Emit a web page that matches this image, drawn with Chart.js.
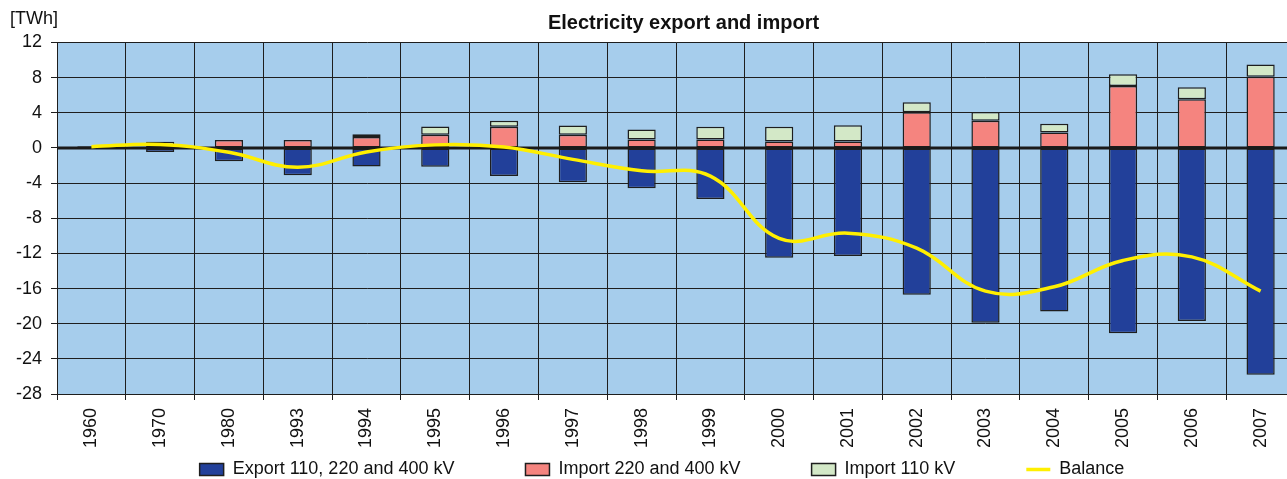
<!DOCTYPE html>
<html>
<head>
<meta charset="utf-8">
<script src="https://cdn.jsdelivr.net/npm/chart.js@4.4.1/dist/chart.umd.min.js"></script>
<style>
  html, body { margin: 0; padding: 0; background: #ffffff; overflow: hidden; }
  #wrap { position: absolute; left: 0; top: 0; width: 1300px; height: 479px; }
</style>
</head>
<body>
<div id="wrap"><canvas id="c" width="1300" height="479"></canvas></div>
<script>
const categories = ['1960','1970','1980','1993','1994','1995','1996','1997','1998','1999','2000','2001','2002','2003','2004','2005','2006','2007'];
const exportVals = [-0.1, -0.45, -1.5, -3.1, -2.1, -2.15, -3.2, -3.9, -4.6, -5.8, -12.5, -12.3, -16.7, -19.9, -18.6, -21.1, -19.7, -25.8];
const import220 = [0.2, 0.1, 0.9, 0.9, 1.25, 1.5, 2.4, 1.5, 0.95, 0.95, 0.72, 0.72, 4.05, 3.1, 1.75, 7.05, 5.55, 8.1];
const import110 = [0, 0.6, 0, 0, 0.3, 0.95, 0.7, 1.05, 1.15, 1.45, 1.7, 1.85, 1.15, 1.0, 1.0, 1.35, 1.35, 1.4];
const balance = [0.15, 0.4, -0.5, -2.2, -0.45, 0.35, 0.1, -1.3, -2.6, -3.2, -10.3, -9.7, -11.4, -16.3, -15.8, -12.8, -12.4, -16.3];
const yTicks = { min: -28, max: 12, step: 4 };
const labels = {
  title: 'Electricity export and import',
  unit: '[TWh]',
  exp: 'Export 110, 220 and 400 kV',
  imp220: 'Import 220 and 400 kV',
  imp110: 'Import 110 kV',
  bal: 'Balance'
};

const FONT = "'Liberation Sans', Arial, sans-serif";
const GRID = '#1e1e1e';
const LEGEND_PAD = 71;

const plotBg = {
  id: 'plotBg',
  beforeDraw(chart) {
    const a = chart.chartArea, ctx = chart.ctx;
    ctx.save();
    ctx.fillStyle = '#A6CDEC';
    ctx.fillRect(a.left, a.top, a.right - a.left, a.bottom - a.top);
    ctx.restore();
  }
};

const zeroLine = {
  id: 'zeroLine',
  beforeDatasetDraw(chart, args) {
    if (args.index !== 3) return;
    const a = chart.chartArea, ctx = chart.ctx;
    const y = chart.scales.y.getPixelForValue(0);
    ctx.save();
    ctx.strokeStyle = '#1a1a1a';
    ctx.lineWidth = 3;
    ctx.beginPath();
    ctx.moveTo(a.left, y);
    ctx.lineTo(a.right, y);
    ctx.stroke();
    ctx.restore();
  }
};

const unitLabel = {
  id: 'unitLabel',
  afterDraw(chart) {
    const ctx = chart.ctx;
    ctx.save();
    ctx.font = '18px ' + FONT;
    ctx.fillStyle = '#111';
    ctx.textAlign = 'left';
    ctx.textBaseline = 'alphabetic';
    ctx.fillText(labels.unit, 10, 24);
    ctx.restore();
  }
};

const nudge = {
  id: 'nudge',
  afterLayout(chart) {
    const t = chart.titleBlock;
    if (t) { t.left += 36; t.right += 36; }
    const l = chart.legend;
    if (l) {
      l.left += 14.5; l.right += 14.5;
      const h = l.bottom - l.top;
      l.top = 469.5 - 9 - LEGEND_PAD; l.bottom = l.top + h;
    }
  }
};

new Chart(document.getElementById('c'), {
  type: 'bar',
  data: {
    labels: categories,
    datasets: [
      { label: labels.exp, data: exportVals, backgroundColor: '#22409A', borderColor: GRID, borderWidth: 1.5, borderSkipped: false, pointStyle: 'rect', order: 1, stack: 's' },
      { label: labels.imp220, data: import220, backgroundColor: '#F5847F', borderColor: GRID, borderWidth: 1.5, borderSkipped: false, pointStyle: 'rect', order: 1, stack: 's' },
      { label: labels.imp110, data: import110, backgroundColor: '#D3E8C7', borderColor: GRID, borderWidth: 1.5, borderSkipped: false, pointStyle: 'rect', order: 1, stack: 's' },
      { type: 'line', label: labels.bal, data: balance, borderColor: '#FFEF00', backgroundColor: '#FFEF00', borderWidth: 3.5, pointRadius: 0, pointStyle: 'line', tension: 0.4, fill: false, order: 0, stack: 'bal' }
    ]
  },
  options: {
    responsive: false,
    animation: false,
    devicePixelRatio: 1,
    datasets: { bar: { barPercentage: 0.41, categoryPercentage: 1.0 } },
    layout: { padding: { left: 0, right: 5, top: 0, bottom: -(LEGEND_PAD - 2) } },
    plugins: {
      title: {
        display: true,
        text: labels.title,
        color: '#111',
        font: { family: FONT, size: 20, weight: 'bold' },
        padding: { top: 11, bottom: 7.5 }
      },
      legend: {
        display: true,
        position: 'bottom',
        labels: {
          usePointStyle: true,
          pointStyleWidth: 24,
          boxWidth: 24,
          boxHeight: 12,
          padding: LEGEND_PAD,
          color: '#111',
          font: { family: FONT, size: 18 },
          sort: (a, b) => a.datasetIndex - b.datasetIndex
        }
      },
      tooltip: { enabled: false }
    },
    scales: {
      x: {
        stacked: true,
        grid: { color: GRID, lineWidth: 1, tickLength: 6, offset: true, tickColor: GRID },
        border: { display: true, color: GRID, width: 1 },
        ticks: { color: '#111', font: { family: FONT, size: 18 }, minRotation: 90, maxRotation: 90, padding: 8, autoSkip: false },
        afterFit(s) { s.height = 55; }
      },
      y: {
        stacked: true,
        min: yTicks.min,
        max: yTicks.max,
        ticks: { stepSize: yTicks.step, color: '#111', font: { family: FONT, size: 18 }, padding: 9 },
        grid: { color: GRID, lineWidth: 1, tickLength: 6, tickColor: GRID },
        border: { display: true, color: GRID, width: 1 },
        afterFit(s) { s.width = 57; }
      }
    }
  },
  plugins: [plotBg, zeroLine, unitLabel, nudge]
});
</script>
</body>
</html>
